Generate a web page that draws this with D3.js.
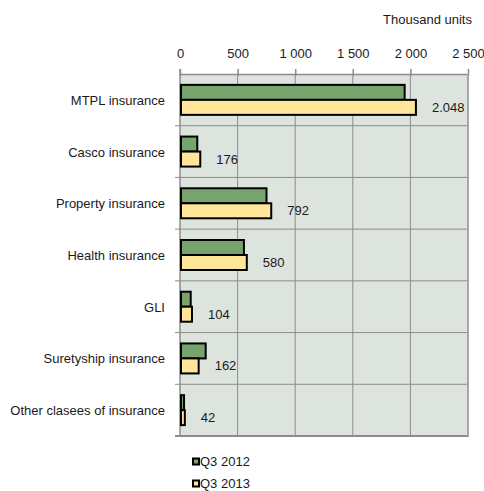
<!DOCTYPE html>
<html>
<head>
<meta charset="utf-8">
<script src="https://cdn.jsdelivr.net/npm/d3@7"></script>
<style>
  body { margin: 0; background: #fff; }
  text { font-family: "Liberation Sans", Arial, sans-serif; fill: #1a1a1a; }
</style>
</head>
<body>
<div id="chart"></div>
<script>
// data
const categories = ["MTPL insurance", "Casco insurance", "Property insurance", "Health insurance",
  "GLI", "Suretyship insurance", "Other clasees of insurance"];
const seriesNames = ["Q3 2012", "Q3 2013"];
const q3_2012 = [1950, 150, 751, 555, 93, 223, 35];
const q3_2013 = [2048, 176, 792, 580, 104, 162, 42];
const labels2013 = ["2.048", "176", "792", "580", "104", "162", "42"];
const ticks = [0, 500, 1000, 1500, 2000, 2500];
const tickLabels = ["0", "500", "1 000", "1 500", "2 000", "2 500"];
const unitLabel = "Thousand units";

const W = 484, H = 491;
const margin = {top: 74, right: 16, bottom: 55, left: 180};
const width = 468 - margin.left, height = 436 - margin.top;
const colors = ["#77a46c", "#ffe699"];
const fs = "13px";

const svg = d3.select("#chart").append("svg")
  .attr("width", W).attr("height", H);

const g = svg.append("g")
  .attr("transform", `translate(${margin.left},${margin.top})`);

const x = d3.scaleLinear().domain([0, 2500]).range([0, width]);
const y = d3.scaleBand().domain(categories).range([0, height]);

// plot background
g.append("rect")
  .attr("width", width).attr("height", height)
  .attr("fill", "#dde4de");

// vertical gridlines
g.selectAll("line.grid").data(ticks.slice(1, -1)).enter()
  .append("line").attr("class", "grid")
  .attr("x1", d => x(d)).attr("x2", d => x(d))
  .attr("y1", 0).attr("y2", height)
  .attr("stroke", "#8c8c8c").attr("stroke-width", 1);

// horizontal category separators (with tick extending left)
g.selectAll("line.sep").data(categories.slice(1)).enter()
  .append("line").attr("class", "sep")
  .attr("x1", -5).attr("x2", width)
  .attr("y1", d => y(d)).attr("y2", d => y(d))
  .attr("stroke", "#8c8c8c").attr("stroke-width", 1);

// top axis
const xAxis = d3.axisTop(x).tickValues(ticks)
  .tickFormat((d, i) => tickLabels[i]).tickSize(5).tickSizeOuter(0);
const ax = g.append("g").call(xAxis);
ax.select(".domain").attr("stroke", "#8c8c8c").attr("stroke-width", 1.5);
ax.selectAll(".tick line").attr("stroke", "#8c8c8c").attr("stroke-width", 1.5)
  .attr("y2", 2).attr("y1", -5);
ax.selectAll(".tick text")
  .attr("y", -16)
  .style("font-size", fs).style("font-family", '"Liberation Sans", Arial, sans-serif')
  .attr("fill", "#1a1a1a");

// left axis line and outer borders
g.append("line").attr("x1", 0).attr("x2", 0).attr("y1", -5).attr("y2", height + 1)
  .attr("stroke", "#8c8c8c").attr("stroke-width", 1.5);
g.append("line").attr("x1", -5).attr("x2", width + 1).attr("y1", height).attr("y2", height)
  .attr("stroke", "#8c8c8c").attr("stroke-width", 2);
g.append("line").attr("x1", width).attr("x2", width).attr("y1", 0).attr("y2", height)
  .attr("stroke", "#a6a6a6").attr("stroke-width", 2);

// category labels
g.selectAll("text.cat").data(categories).enter()
  .append("text").attr("class", "cat")
  .attr("x", -15).attr("y", d => y(d) + y.bandwidth() / 2 + 5)
  .attr("text-anchor", "end").style("font-size", fs)
  .text(d => d);

// bars
const barH = 15;
const series = [q3_2012, q3_2013];
series.forEach((vals, s) => {
  g.selectAll(`rect.bar${s}`).data(vals).enter()
    .append("rect").attr("class", `bar${s}`)
    .attr("x", 1)
    .attr("y", (d, i) => y(categories[i]) + y.bandwidth() / 2 - barH + s * barH)
    .attr("width", d => x(d) - 1)
    .attr("height", barH)
    .attr("fill", colors[s])
    .attr("stroke", "#000").attr("stroke-width", 2);
});

// value labels for Q3 2013
g.selectAll("text.val").data(q3_2013).enter()
  .append("text").attr("class", "val")
  .attr("x", d => x(d) + 16)
  .attr("y", (d, i) => y(categories[i]) + y.bandwidth() / 2 + 12)
  .style("font-size", fs)
  .text((d, i) => labels2013[i]);

// unit label
svg.append("text")
  .attr("x", 472).attr("y", 24)
  .attr("text-anchor", "end").style("font-size", fs)
  .text(unitLabel);

// legend
const leg = svg.append("g").attr("transform", "translate(192,458)");
seriesNames.forEach((name, i) => {
  const row = leg.append("g").attr("transform", `translate(0,${i * 22})`);
  row.append("rect").attr("x", 1).attr("y", 0.5).attr("width", 6).attr("height", 6)
    .attr("fill", colors[i]).attr("stroke", "#000").attr("stroke-width", 2);
  row.append("text").attr("x", 8).attr("y", 7.5).style("font-size", fs).text(name);
});
</script>
</body>
</html>
